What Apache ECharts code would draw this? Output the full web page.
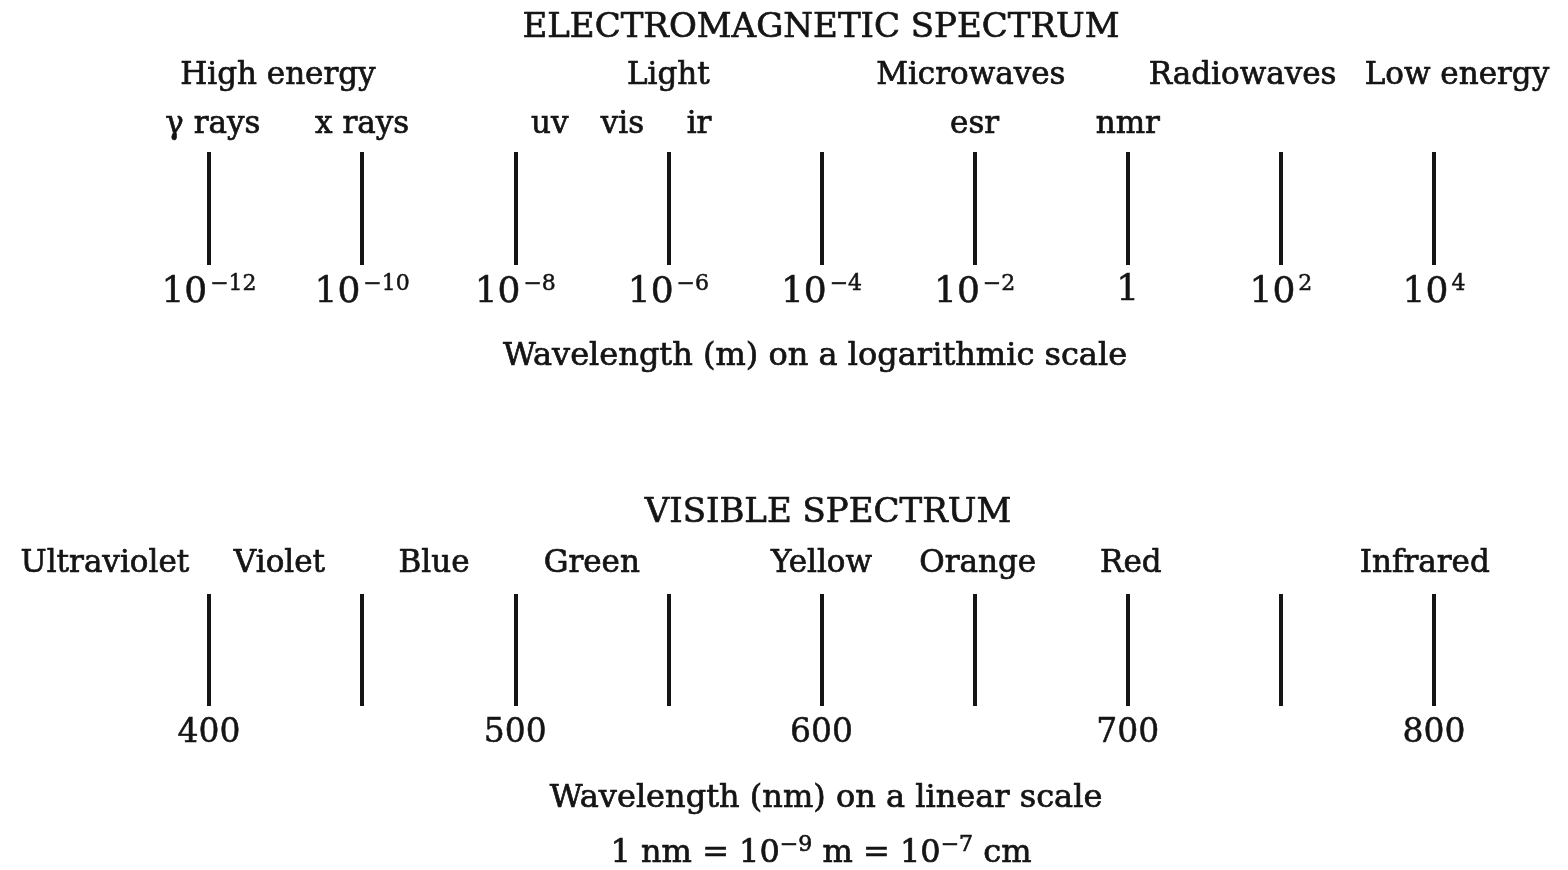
<!DOCTYPE html>
<html><head><meta charset="utf-8">
<script src="https://cdn.jsdelivr.net/npm/echarts@6/dist/echarts.min.js"></script>
<style>html,body{margin:0;padding:0;background:#fff}#c{width:1568px;height:870px}</style>
</head><body><div id="c"></div>
<script>
// ---- data ----
const emExponents = [-12, -10, -8, -6, -4, -2, 0, 2, 4];           // log10 wavelength (m) ticks
const emTickLabels = ['−12', '−10', '−8', '−6', '−4', '−2', '1', '2', '4']; // superscripts ('1' = plain)
const emBandNames = ['High energy', 'Light', 'Microwaves', 'Radiowaves', 'Low energy'];
const emBandPos = [-11.1, -6, -2.05, 1.5, 4.3];
const emRegionNames = ['γ rays', 'x rays', 'uv', 'vis', 'ir', 'esr', 'nmr'];
const emRegionPos = [-11.95, -10, -7.55, -6.6, -5.6, -2, 0];
const visTicks = [400, 450, 500, 550, 600, 650, 700, 750, 800];    // nm
const visNames = ['Ultraviolet', 'Violet', 'Blue', 'Green', 'Yellow', 'Orange', 'Red', 'Infrared'];
const visPos = [366, 423, 473.5, 525, 600, 651, 701, 797];

const FONT = 'DejaVu Serif';
const INK = '#141414';
const STROKE = 0.7;

const chart = echarts.init(document.getElementById('c'));

function emLabel(v) {
  const i = emExponents.indexOf(Math.round(v));
  if (i < 0) return '';
  const s = emTickLabels[i];
  if (s === '1') return '{b|1}';
  return '{b|10}{s|' + s + '}';
}

const textLabel = {
  show: true, position: 'inside', color: INK, fontFamily: FONT, fontSize: 31,
  textBorderColor: INK, textBorderWidth: STROKE,
  formatter: p => p.data.name
};

function gtext(x, y, text, size) {
  return { type: 'text', x: x, y: y, style: {
    text: text, fill: INK, stroke: INK, lineWidth: STROKE, font: size + 'px "DejaVu Serif"',
    textAlign: 'center', textVerticalAlign: 'middle' } };
}

chart.setOption({
  backgroundColor: '#fff',
  animation: false,
  grid: [
    { left: 209, right: 134, top: 152, height: 113 },
    { left: 209, right: 134, top: 594, height: 112 }
  ],
  xAxis: [
    {
      gridIndex: 0, type: 'value', min: emExponents[0], max: emExponents[emExponents.length - 1], interval: 2,
      axisLine: { show: false }, axisTick: { show: false },
      splitLine: { show: true, lineStyle: { color: INK, width: 4 } },
      axisLabel: {
        show: true, margin: 8, color: INK, formatter: emLabel,
        rich: {
          b: { fontFamily: FONT, fontSize: 36, color: INK, verticalAlign: 'bottom', textBorderColor: INK, textBorderWidth: 0.5 },
          s: { fontFamily: FONT, fontSize: 22, color: INK, verticalAlign: 'bottom', padding: [0, 0, 16, 3], textBorderColor: INK, textBorderWidth: 0.5 }
        }
      }
    },
    {
      gridIndex: 1, type: 'value', min: visTicks[0], max: visTicks[visTicks.length - 1], interval: 50,
      axisLine: { show: false }, axisTick: { show: false },
      splitLine: { show: true, lineStyle: { color: INK, width: 4 } },
      axisLabel: {
        show: true, margin: 11, color: INK, fontFamily: FONT, fontSize: 33,
        textBorderColor: INK, textBorderWidth: 0.5,
        formatter: v => (v % 100 === 0 ? String(v) : '')
      }
    }
  ],
  yAxis: [
    { gridIndex: 0, type: 'value', min: 0, max: 1, show: false },
    { gridIndex: 1, type: 'value', min: 0, max: 1, show: false }
  ],
  series: [
    {
      type: 'scatter', xAxisIndex: 0, yAxisIndex: 0, symbolSize: 0, clip: false, silent: true,
      itemStyle: { opacity: 1 },
      data: emBandNames.map((n, i) => ({ name: n, value: [emBandPos[i], 1.675] })),
      label: textLabel
    },
    {
      type: 'scatter', xAxisIndex: 0, yAxisIndex: 0, symbolSize: 0, clip: false, silent: true,
      itemStyle: { opacity: 1 },
      data: emRegionNames.map((n, i) => ({ name: n, value: [emRegionPos[i], 1.235] })),
      label: textLabel
    },
    {
      type: 'scatter', xAxisIndex: 1, yAxisIndex: 1, symbolSize: 0, clip: false, silent: true,
      itemStyle: { opacity: 1 },
      data: visNames.map((n, i) => ({ name: n, value: [visPos[i], 1.265] })),
      label: textLabel
    }
  ],
  graphic: [
    gtext(821, 28, 'ELECTROMAGNETIC SPECTRUM', 34),
    gtext(815, 357, 'Wavelength (m) on a logarithmic scale', 32),
    gtext(828, 513, 'VISIBLE SPECTRUM', 34),
    gtext(826, 799, 'Wavelength (nm) on a linear scale', 32),
    { type: 'text', x: 821, y: 852, style: {
        text: '{t|1 nm = 10}{s|−9}{t| m = 10}{s|−7}{t| cm}', textAlign: 'center', textVerticalAlign: 'middle',
        rich: {
          t: { fontFamily: FONT, fontSize: 32, fill: INK, stroke: INK, lineWidth: STROKE, verticalAlign: 'bottom' },
          s: { fontFamily: FONT, fontSize: 22, fill: INK, stroke: INK, lineWidth: STROKE, verticalAlign: 'bottom', padding: [0, 0, 13, 0] }
        }
      } }
  ]
});
</script>
</body></html>
